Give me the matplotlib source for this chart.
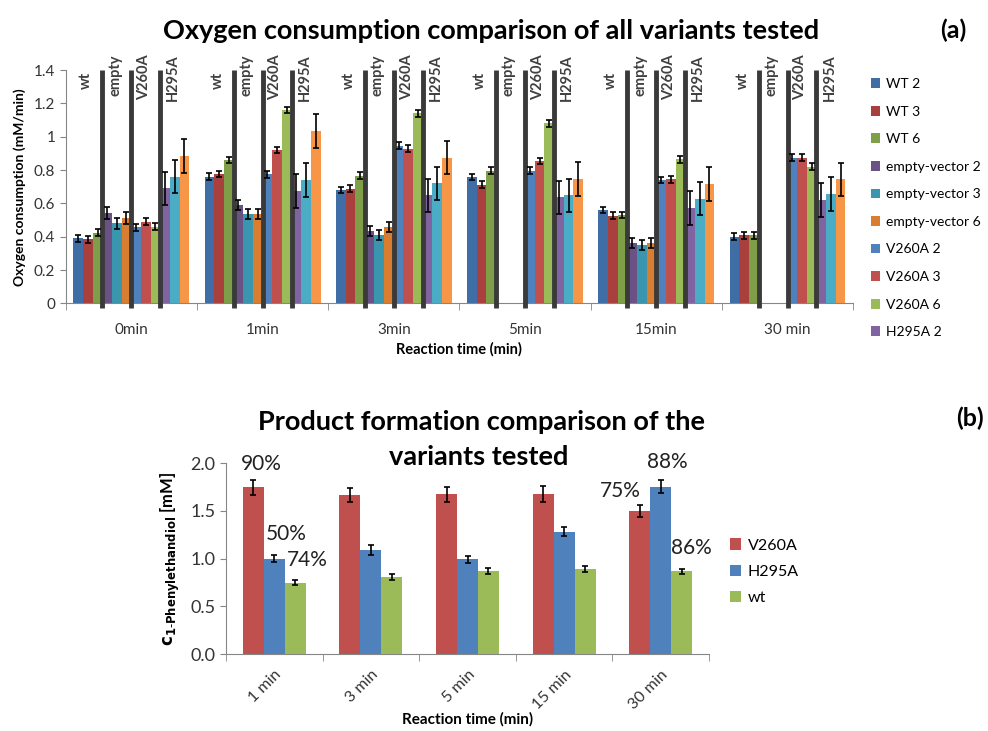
import numpy as np
import matplotlib.pyplot as plt
from matplotlib.ticker import FuncFormatter

plt.rcParams['font.family'] = ['Lato', 'DejaVu Sans']

# ---- (a) oxygen consumption ----
times_a = ['0min', '1min', '3min', '5min', '15min', '30 min']
names_a = ['WT 2', 'WT 3', 'WT 6', 'empty-vector 2', 'empty-vector 3', 'empty-vector 6',
           'V260A 2', 'V260A 3', 'V260A 6', 'H295A 2', 'H295A 3', 'H295A 6']
nan = np.nan
wt_2 = [0.39, 0.76, 0.68, 0.758, 0.56, 0.40]
wt_3 = [0.385, 0.776, 0.688, 0.712, 0.526, 0.408]
wt_6 = [0.425, 0.86, 0.766, 0.796, 0.53, 0.408]
ev_2 = [0.544, 0.59, 0.436, nan, 0.364, nan]
ev_3 = [0.48, 0.536, 0.412, nan, 0.35, nan]
ev_6 = [0.514, 0.534, 0.456, nan, 0.364, nan]
v260a_2 = [0.456, 0.774, 0.946, 0.796, 0.74, 0.874]
v260a_3 = [0.49, 0.92, 0.928, 0.854, 0.744, 0.874]
v260a_6 = [0.46, 1.16, 1.14, 1.08, 0.864, 0.82]
h295a_2 = [0.69, 0.674, 0.648, 0.636, 0.572, 0.62]
h295a_3 = [0.76, 0.74, 0.72, 0.648, 0.628, 0.656]
h295a_6 = [0.884, 1.035, 0.874, 0.746, 0.716, 0.744]
err_wt = [0.02, 0.02, 0.02, 0.02, 0.02, 0.02]
err_ev = [0.035, 0.03, 0.03, nan, 0.03, nan]
err_v260a = [0.02, 0.02, 0.02, 0.02, 0.02, 0.02]
err_h295a = [0.1, 0.1, 0.1, 0.1, 0.1, 0.1]
sections = ['wt', 'empty', 'V260A', 'H295A']

vals_a = [wt_2, wt_3, wt_6, ev_2, ev_3, ev_6, v260a_2, v260a_3, v260a_6, h295a_2, h295a_3, h295a_6]
errs_a = [err_wt] * 3 + [err_ev] * 3 + [err_v260a] * 3 + [err_h295a] * 3
cols_a = ['#3F6EA6', '#A9403D', '#7F9E48', '#6A5287', '#3A95AE', '#D97D31',
          '#4F81BD', '#C0504D', '#9BBB59', '#8064A2', '#4BACC6', '#F79646']

# ---- (b) product formation ----
times_b = ['1 min', '3 min', '5 min', '15 min', '30 min']
names_b = ['V260A', 'H295A', 'wt']
prod_v260a = [1.748, 1.668, 1.675, 1.678, 1.50]
prod_h295a = [1.0, 1.09, 0.993, 1.283, 1.755]
prod_wt = [0.748, 0.81, 0.867, 0.895, 0.867]
perr_v260a = [0.08, 0.07, 0.08, 0.08, 0.06]
perr_h295a = [0.04, 0.05, 0.04, 0.05, 0.07]
perr_wt = [0.025, 0.03, 0.03, 0.03, 0.025]
cols_b = ['#C0504D', '#4F81BD', '#9BBB59']
# conversion labels: (time index, series index, text)
conv = [(0, 0, '90%'), (0, 1, '50%'), (0, 2, '74%'), (4, 0, '75%'), (4, 1, '88%'), (4, 2, '86%')]

txt = '#333333'
spine = '#868686'

fig = plt.figure(figsize=(9.88, 7.31), dpi=100)

# ================= top chart =================
ax = fig.add_axes([0.0665, 0.585, 0.797, 0.319])
w = 0.0736
x = np.arange(len(times_a))
handles = []
for k, (v, e, c) in enumerate(zip(vals_a, errs_a, cols_a)):
    pos = x + (k - 5.5) * w
    b = ax.bar(pos, v, w, color=c, zorder=2, label=names_a[k])
    ax.errorbar(pos, v, yerr=e, fmt='none', ecolor='black', elinewidth=1.2,
                capsize=2.5, capthick=1.2, zorder=4)
    handles.append(b)

# separators and section labels
for i in x:
    start = i - 6 * w
    for s in range(1, 4):
        ax.vlines(start + 3 * s * w, -0.025, 1.4, color='#3a3a3a', lw=3.5, zorder=3, clip_on=False)
    for s, lab in enumerate(sections):
        cx = start + (3 * s + 1.5) * w - 0.012
        top = 1.39 if lab == 'wt' else 1.495
        ax.text(cx, top, lab, rotation=90, ha='center', va='top', fontsize=10.5,
                fontweight='bold', color='#404040', clip_on=False)

ax.set_xlim(-0.5, len(times_a) - 0.5)
ax.set_ylim(0, 1.4)
ax.set_yticks(np.arange(0, 1.41, 0.2))
ax.yaxis.set_major_formatter(FuncFormatter(lambda v, p: '%g' % round(v, 1)))
ax.set_xticks(x)
ax.set_xticklabels(times_a)
ax.set_xticks(np.arange(-0.5, len(times_a), 1), minor=True)
ax.tick_params(axis='x', which='major', length=0, pad=14, labelsize=11, labelcolor=txt)
ax.tick_params(axis='x', which='minor', length=5, color=spine, direction='out')
ax.tick_params(axis='y', length=4, color=spine, labelsize=11, labelcolor=txt)
for sp in ['top', 'right']:
    ax.spines[sp].set_visible(False)
for sp in ['left', 'bottom']:
    ax.spines[sp].set_color(spine)
ax.set_ylabel('Oxygen consumption (mM/min)', fontsize=10, fontweight='bold', labelpad=6)
ax.set_xlabel('Reaction time (min)', fontsize=10.5, fontweight='bold', labelpad=4)

ax.legend(handles[:10], names_a[:10], loc='upper left', bbox_to_anchor=(1.015, 0.99),
          frameon=False, fontsize=10, handlelength=0.7, handleheight=0.7,
          handletextpad=0.4, labelspacing=1.12, borderaxespad=0)

fig.text(0.497, 0.958, 'Oxygen consumption comparison of all variants tested',
         ha='center', va='center', fontsize=19.5, fontweight='bold')
fig.text(0.965, 0.958, '(a)', ha='center', va='center', fontsize=18, fontweight='bold')

# ================= bottom chart =================
bx = fig.add_axes([0.2287, 0.1053, 0.489, 0.2609])
wb = 0.217
xb = np.arange(len(times_b))
vals_b = [prod_v260a, prod_h295a, prod_wt]
errs_b = [perr_v260a, perr_h295a, perr_wt]
bh = []
for k, (v, e, c) in enumerate(zip(vals_b, errs_b, cols_b)):
    pos = xb + (k - 1) * wb
    bh.append(bx.bar(pos, v, wb, color=c, zorder=2))
    bx.errorbar(pos, v, yerr=e, fmt='none', ecolor='black', elinewidth=1.2,
                capsize=2.5, capthick=1.2, zorder=3)

offs = {(0, 0): (0.08, 0.16), (0, 1): (0.12, 0.22), (0, 2): (0.12, 0.21),
        (4, 0): (-0.2, 0.15), (4, 1): (0.07, 0.19), (4, 2): (0.1, 0.22)}
for ti, si, t in conv:
    dx, dy = offs[(ti, si)]
    bx.text(xb[ti] + (si - 1) * wb + dx, vals_b[si][ti] + errs_b[si][ti] + dy, t,
            ha='center', va='center', fontsize=15, color='#222222')

bx.set_xlim(-0.5, len(times_b) - 0.5)
bx.set_ylim(0, 2.0)
bx.set_yticks(np.arange(0, 2.01, 0.5))
bx.yaxis.set_major_formatter(FuncFormatter(lambda v, p: '%.1f' % v))
bx.set_xticks(xb)
bx.set_xticklabels(times_b, rotation=45, ha='right', rotation_mode='anchor')
bx.set_xticks(np.arange(-0.5, len(times_b), 1), minor=True)
bx.tick_params(axis='x', which='major', length=0, pad=10, labelsize=11.5, labelcolor=txt)
bx.tick_params(axis='x', which='minor', length=5, color=spine, direction='out')
bx.tick_params(axis='y', length=4, color=spine, labelsize=13, labelcolor=txt)
for sp in ['top', 'right']:
    bx.spines[sp].set_visible(False)
for sp in ['left', 'bottom']:
    bx.spines[sp].set_color(spine)
bx.set_ylabel(r'$\mathbf{c}_{\mathbf{1\text{-}Phenylethandiol}}$' + ' [mM]', fontsize=12,
              fontweight='bold', labelpad=6)
bx.set_xlabel('Reaction time (min)', fontsize=11, fontweight='bold', labelpad=0)

bx.legend(bh, names_b, loc='upper left', bbox_to_anchor=(1.03, 0.64), frameon=False,
          fontsize=11.5, handlelength=0.7, handleheight=0.7, handletextpad=0.4,
          labelspacing=0.75, borderaxespad=0)

fig.text(0.487, 0.423, 'Product formation comparison of the',
         ha='center', va='center', fontsize=19.5, fontweight='bold')
fig.text(0.485, 0.375, 'variants tested',
         ha='center', va='center', fontsize=19.5, fontweight='bold')
fig.text(0.982, 0.428, '(b)', ha='center', va='center', fontsize=18, fontweight='bold')

fig.savefig('out.png', dpi=100)
